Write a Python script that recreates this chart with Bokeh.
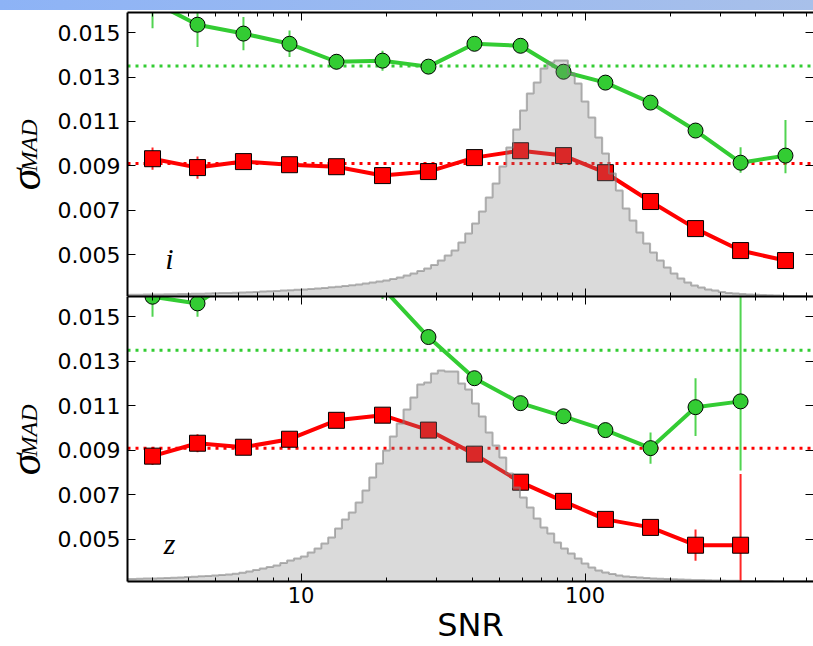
import numpy as np
from bokeh.plotting import figure
from bokeh.models import (Range1d, LinearAxis, LogAxis, FixedTicker, PrintfTickFormatter,
                          CustomJSTickFormatter, Span, Label, Div)
from bokeh.core.properties import value
from bokeh.layouts import column, row
from bokeh.embed import file_html
from bokeh.resources import INLINE

# ---------------- data ----------------
snr_bins = [3.00, 4.32, 6.27, 9.11, 13.33, 19.36, 28.1, 40.8, 59.3, 84.0, 118.0, 170.1, 245.0, 353.0, 508.0]

# i band
i_green = [0.0164, 0.01536, 0.01496, 0.01450, 0.01369, 0.01374, 0.01347, 0.01450, 0.01441,
           0.01324, 0.01275, 0.01185, 0.01059, 0.00914, 0.00946]
i_green_elo = [0.0012, 0.0010, 0.00075, 0.0006, 0.00035, 0.00045, 0.0002, 0.0002, 0.0002,
               0.0002, 0.0002, 0.0002, 0.0003, 0.00045, 0.0008]
i_green_ehi = [0.0012, 0.0010, 0.00075, 0.0006, 0.00035, 0.00045, 0.0002, 0.0002, 0.0002,
               0.0002, 0.0002, 0.0002, 0.0003, 0.0007, 0.0016]
i_red = [0.00932, 0.00892, 0.00919, 0.00905, 0.00896, 0.00856, 0.00874, 0.00937, 0.00968,
         0.00946, 0.00869, 0.00739, 0.00617, 0.00518, 0.00473]
i_red_err = [0.0005, 0.0005, 0.0003, 0.0003, 0.0002, 0.0002, 0.0002, 0.0002, 0.0002,
             0.0002, 0.0002, 0.0002, 0.0002, 0.0003, 0.0003]

# z band
z_green = [0.0159, 0.0156, 0.0170, 0.0176, 0.0178, 0.0163, 0.01409, 0.01224, 0.01112,
           0.01053, 0.00991, 0.0091, 0.01094, 0.0112]
z_green_elo = [0.0009, 0.0006, 0.0005, 0.0005, 0.0005, 0.0005, 0.0003, 0.0002, 0.0002,
               0.0002, 0.0002, 0.0007, 0.0013, 0.0031]
z_green_ehi = [0.0009, 0.0006, 0.0005, 0.0005, 0.0005, 0.0005, 0.0003, 0.0002, 0.0002,
               0.0002, 0.0002, 0.0007, 0.0013, 0.0050]
z_red = [0.00874, 0.00932, 0.00914, 0.0095, 0.01035, 0.01058, 0.00991, 0.00883, 0.00757,
         0.00671, 0.0059, 0.00554, 0.00474, 0.00474]
z_red_err = [0.0004, 0.0004, 0.0003, 0.0002, 0.0002, 0.0002, 0.0002, 0.0002, 0.0002,
             0.0002, 0.0002, 0.0003, 0.0007, 0.0032]

green_ref = 0.0135
red_ref = 0.0091

# SNR histograms (arbitrary units), log-spaced bins
hist_log_start = 0.37201
hist_log_step = 0.02412
i_hist = [1.6,
          1.7, 1.8, 1.9, 2.0, 2.1, 2.2, 2.3, 2.5, 2.6, 2.7,
          2.8, 3.0, 3.2, 3.4, 3.6, 3.8, 4.0, 4.3, 4.6, 4.9,
          5.2, 5.5, 5.9, 6.3, 6.7, 7.1, 7.6, 8.1, 8.6, 9.2,
          9.8, 10.5, 11.3, 12.1, 13, 14, 15, 16, 17.5, 19,
          21, 23, 25.5, 28, 31.5, 36, 41, 46, 54, 63,
          73, 85, 99, 113, 130, 149, 167, 186, 203, 214,
          228, 234, 236, 236, 223, 213, 195, 179, 159, 143,
          123, 106, 88, 76, 64, 53, 44, 36, 29, 23,
          18, 14, 11, 9, 7, 6, 4.5, 3.5, 3, 2.5,
          2, 1.7, 1.4, 1.2, 1, 0.8, 0.6, 0.5, 0.4, 0.3]
z_hist = [2.4,
          2.5, 2.7, 2.9, 3.1, 3.3, 3.5, 3.8, 4.1, 4.4, 4.8,
          5.2, 5.6, 6.0, 6.5, 7.0, 7.8, 8.7, 10, 11.5, 13,
          14.5, 16, 18.5, 21, 23, 25, 29, 33, 38, 44,
          53, 62, 69, 79, 91, 104, 118, 131, 145, 158,
          172, 184, 197, 199, 208, 211, 210, 210, 198, 192,
          178, 165, 149, 136, 124, 108, 94, 84, 74, 63,
          54, 48, 39, 33, 28, 23, 18, 14, 11, 9,
          7.5, 6, 5, 4.5, 4, 3.5, 3, 2.8, 2.5, 2.2,
          2, 1.8, 1.6, 1.4, 1.2, 1, 0.9, 0.8, 0.7, 0.6,
          0.5, 0.5, 0.4, 0.4, 0.3, 0.3, 0.3, 0.2, 0.2, 0.2]

y_ticks = [0.005, 0.007, 0.009, 0.011, 0.013, 0.015]
x_major = [10, 100]
x_minor = [3, 4, 5, 6, 7, 8, 9, 20, 30, 40, 50, 60, 70, 80, 90, 200, 300, 400, 500, 600]

GREEN = "#33cc33"
RED = "#ff0000"
TICK_FONT = "DejaVu Sans"
MATH_FONT = "Liberation Serif"

X_RANGE = (2.449, 637.6)
Y_RANGE = (0.00311, 0.01591)

LABEL_W = 52  # width of the strip that holds the sigma_MAD labels


def blank(ax):
    ax.formatter = CustomJSTickFormatter(code="return ''")
    ax.major_label_text_font_size = "1px"
    ax.major_label_standoff = 0


def style_x_axis(ax, show_labels):
    ax.ticker = FixedTicker(ticks=x_major, minor_ticks=x_minor)
    ax.formatter = PrintfTickFormatter(format="%d")
    ax.major_tick_in = 8
    ax.major_tick_out = 0
    ax.minor_tick_in = 4
    ax.minor_tick_out = 0
    ax.axis_line_width = 2
    ax.axis_line_color = "black"
    ax.major_tick_line_color = "black"
    ax.minor_tick_line_color = "black"
    if show_labels:
        ax.major_label_text_font = TICK_FONT
        ax.major_label_text_font_size = "21px"
        ax.major_label_text_color = "black"
        ax.major_label_standoff = 5
    else:
        blank(ax)


def style_y_axis(ax, show_labels, line=True):
    ax.ticker = FixedTicker(ticks=y_ticks)
    ax.formatter = PrintfTickFormatter(format="%.3f")
    ax.major_tick_in = 8
    ax.major_tick_out = 0
    ax.minor_tick_in = 0
    ax.minor_tick_out = 0
    ax.axis_line_width = 2
    ax.axis_line_color = "black" if line else None
    ax.major_tick_line_color = "black"
    if show_labels:
        ax.major_label_text_font = TICK_FONT
        ax.major_label_text_font_size = "22px"
        ax.major_label_text_color = "black"
        ax.major_label_standoff = 7
    else:
        blank(ax)


def make_panel(height, border_top, border_bottom, frame_h, green, g_lo, g_hi, red, r_lo, r_hi,
               hist, letter, bottom):
    p = figure(width=813 - LABEL_W, height=height, x_axis_type="log",
               x_range=Range1d(*X_RANGE), y_range=Range1d(*Y_RANGE),
               output_backend="svg", toolbar_location=None,
               min_border_left=127 - LABEL_W, min_border_right=0,
               min_border_top=border_top, min_border_bottom=border_bottom)
    p.outline_line_color = None
    p.xgrid.visible = False
    p.ygrid.visible = False
    p.background_fill_color = "white"
    p.border_fill_color = "white"

    below_ax = p.below[0]
    style_x_axis(below_ax, bottom)
    style_y_axis(p.left[0], True)
    top_ax = LogAxis()
    style_x_axis(top_ax, False)
    p.add_layout(top_ax, "above")
    right_ax = LinearAxis()
    style_y_axis(right_ax, False, line=False)
    p.add_layout(right_ax, "right")

    if bottom:
        below_ax.axis_label = "SNR"
        below_ax.axis_label_text_font = TICK_FONT
        below_ax.axis_label_text_font_size = "32px"
        below_ax.axis_label_text_font_style = "normal"
        below_ax.axis_label_text_color = "black"
        below_ax.axis_label_standoff = 0

    # reference medians
    p.add_layout(Span(location=green_ref, dimension="width", line_color=GREEN,
                      line_dash="3 5", line_width=3, level="underlay"))
    p.add_layout(Span(location=red_ref, dimension="width", line_color=RED,
                      line_dash="3 5", line_width=3, level="underlay"))

    n = len(green)
    xs = snr_bins[:n]
    g = np.array(green)
    r = np.array(red)
    # error bars
    p.segment(x0=xs, y0=g - np.array(g_lo), x1=xs, y1=g + np.array(g_hi),
              line_color=GREEN, line_width=2, line_alpha=0.85)
    p.segment(x0=xs, y0=r - np.array(r_lo), x1=xs, y1=r + np.array(r_hi),
              line_color=RED, line_width=2, line_alpha=0.85)
    # lines
    p.line(xs, green, line_color=GREEN, line_width=4)
    p.line(xs, red, line_color=RED, line_width=4)
    # markers
    p.scatter(xs, green, marker="circle", size=15, fill_color=GREEN,
              line_color="black", line_width=1)
    p.scatter(xs, red, marker="square", size=16, fill_color=RED,
              line_color="black", line_width=1)

    # histogram (on its own scale)
    p.extra_y_ranges = {"hist": Range1d(0, frame_h)}
    nb = len(hist)
    edges = 10 ** (hist_log_start + hist_log_step * np.arange(nb + 1))
    hx = np.repeat(edges, 2)
    hy = np.concatenate([[0.0], np.repeat(np.array(hist, dtype=float), 2), [0.0]])
    p.patch(hx, hy, y_range_name="hist", fill_color="#838383", fill_alpha=0.3,
            line_color="#808080", line_alpha=0.6, line_width=2)

    # band letter
    p.add_layout(Label(x=42, y=38, x_units="screen", y_units="screen", text=letter,
                       text_align="center", text_baseline="alphabetic",
                       text_font=MATH_FONT, text_font_style="italic",
                       text_font_size="30px", text_color="black"))
    return p


bar = Div(text="", width=813, height=10, margin=0,
          styles={"background": "linear-gradient(to right, #8db3f6, #a8c0ea)",
                  "width": "813px", "height": "10px"})

p_top = make_panel(286, 2, 0, 284, i_green, i_green_elo, i_green_ehi,
                   i_red, i_red_err, i_red_err, i_hist, "i", False)
p_bot = make_panel(350, 0, 65, 285, z_green, z_green_elo, z_green_ehi,
                   z_red, z_red_err, z_red_err, z_hist, "z", True)

# strip with the y-axis labels (data units = page pixels, y measured up from the bottom)
lab = figure(width=LABEL_W, height=636, x_range=Range1d(0, LABEL_W), y_range=Range1d(0, 636),
             output_backend="svg", toolbar_location=None, min_border=0,
             x_axis_location=None, y_axis_location=None)
lab.outline_line_color = None
lab.grid.visible = False
lab.text(x=[24.5, 24.5], y=[467, 182], text=["σ", "σ"], angle=np.pi / 2,
         text_font=value(MATH_FONT), text_font_style="italic", text_font_size="44px",
         text_align="center", text_baseline="middle", text_color="black")
lab.text(x=[28.5, 28.5], y=[501, 216], text=["MAD", "MAD"], angle=np.pi / 2,
         text_font=value(MATH_FONT), text_font_style="italic", text_font_size="24px",
         text_align="center", text_baseline="middle", text_color="black")

layout = column(bar, row(lab, column(p_top, p_bot, spacing=0), spacing=0), spacing=0)
open("out.html", "w").write(file_html(layout, INLINE))
